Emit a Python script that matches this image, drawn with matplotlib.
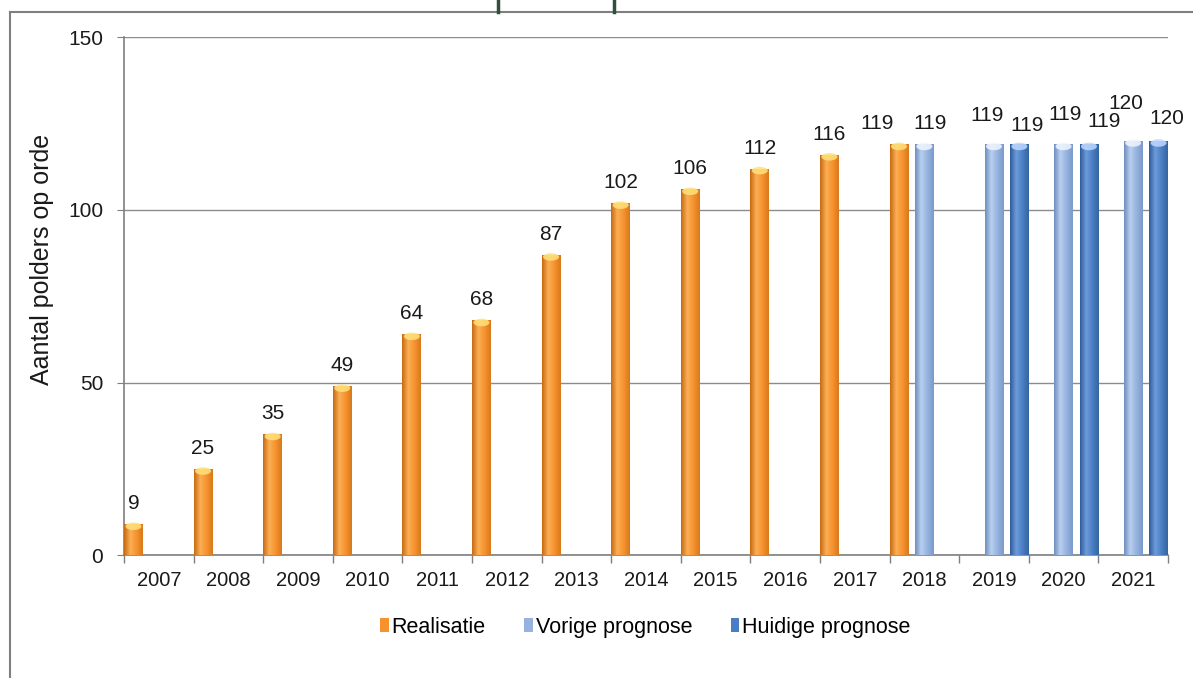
"""
Aantal polders op orde: realisatie 2007-2018 plus vorige en huidige prognose.
"""
import numpy as np
import matplotlib.pyplot as plt
from matplotlib.colors import LinearSegmentedColormap
from matplotlib.patches import Ellipse
from matplotlib.lines import Line2D

plt.rcParams['font.family'] = ['Liberation Sans', 'DejaVu Sans']

years = ["2007", "2008", "2009", "2010", "2011", "2012", "2013", "2014",
         "2015", "2016", "2017", "2018", "2019", "2020", "2021"]
realisatie = [9, 25, 35, 49, 64, 68, 87, 102, 106, 112, 116, 119,
              None, None, None]
vorige = [None] * 11 + [119, 119, 119, 120]
huidige = [None] * 12 + [119, 119, 120]

series = [
    ("Realisatie", realisatie, "#F7922E", ["#C76A12", "#FBAF55", "#F7922E", "#D77A1C"], "#FFE27A"),
    ("Vorige prognose", vorige, "#95B3DE", ["#6F8FBF", "#B9CFEE", "#95B3DE", "#7B9ACA"], "#F0F6FF"),
    ("Huidige prognose", huidige, "#4A7EC4", ["#2E5C9C", "#6E9CDA", "#4A7EC4", "#35659F"], "#BFD8FF"),
]

# (dx, dy) pixel shifts for labels that Excel moved to avoid overlap
nudge = {(0, 11): (-22, 0), (1, 11): (6, 0),
         (1, 12): (-7, 8), (2, 12): (8, -2),
         (1, 13): (2, 9), (2, 13): (15, 2),
         (1, 14): (-7, 17), (2, 14): (8, 2)}

fig = plt.figure(figsize=(11.93, 6.78), dpi=100)
ax = fig.add_axes([0.104, 0.181, 0.875, 0.764])

x = np.arange(len(years))
width = 0.27
offsets = [-0.365, 0.0, 0.365]
FS = 14.5

for s, (name, vals, base, grad, cap) in enumerate(series):
    cmap = LinearSegmentedColormap.from_list(name, grad)
    for i, v in enumerate(vals):
        if v is None:
            continue
        left = x[i] + offsets[s] - width / 2
        bar = ax.bar(left, v, width=width, align='edge', color=base,
                     edgecolor='none', zorder=3)[0]
        img = ax.imshow(np.linspace(0, 1, 64).reshape(1, -1), cmap=cmap,
                        extent=[left, left + width, 0, v], aspect='auto',
                        zorder=3.5, interpolation='bilinear')
        img.set_clip_path(bar)
        ax.add_patch(Ellipse((left + width / 2, v - 0.6), width * 0.85, 2.2,
                             facecolor=cap, edgecolor='none', alpha=0.85, zorder=4))
        dx, dy = nudge.get((s, i), (0, 0))
        ax.annotate(str(v), (left + width / 2, v),
                    xytext=(dx * 0.72, (11 + dy) * 0.72),
                    textcoords='offset points', ha='center', va='bottom',
                    fontsize=15, color='#1A1A1A', zorder=5)

ax.set_xlim(-0.5, len(years) - 0.5)
ax.set_ylim(0, 150)
ax.set_yticks([0, 50, 100, 150])
ax.set_xticks(x)
ax.set_xticklabels(years)
ax.set_xticks(np.arange(-0.5, len(years), 1), minor=True)
ax.tick_params(axis='x', which='major', length=0, labelsize=FS, pad=11, colors='#1A1A1A')
ax.tick_params(axis='x', which='minor', length=6, color='#7F7F7F', width=1)
ax.tick_params(axis='y', length=5, color='#7F7F7F', labelsize=15, pad=10, labelcolor='#1A1A1A')
ax.grid(axis='y', color='#8C8C8C', linewidth=1, zorder=0)
for side in ['top', 'right']:
    ax.spines[side].set_visible(False)
for side in ['left', 'bottom']:
    ax.spines[side].set_color('#7F7F7F')
    ax.spines[side].set_linewidth(1.2)
ax.set_ylabel("Aantal polders op orde", fontsize=18, color='#1A1A1A')
ax.yaxis.set_label_coords(-0.067, 0.572)

handles = [plt.Rectangle((0, 0), 1, 1, facecolor=c, edgecolor='none')
           for _, _, c, _, _ in series]
fig.legend(handles, [n for n, *_ in series], loc='center', ncol=3,
           bbox_to_anchor=(0.541, 0.075), frameon=False, fontsize=15.5,
           handlelength=0.4, handleheight=0.65, handletextpad=0.12,
           columnspacing=1.8)

# outer chart frame and the two marks above it
fig.add_artist(Line2D([10 / 1193, 10 / 1193], [0, 1 - 12 / 678],
                      transform=fig.transFigure, color='#7F7F7F', lw=1.5))
fig.add_artist(Line2D([10 / 1193, 1], [1 - 12 / 678, 1 - 12 / 678],
                      transform=fig.transFigure, color='#7F7F7F', lw=1.5))
for px in [498, 614]:
    fig.add_artist(Line2D([px / 1193, px / 1193], [1 - 12 / 678, 1],
                          transform=fig.transFigure, color='#2F4F3F', lw=2.5))

fig.savefig("out.png", dpi=100)
